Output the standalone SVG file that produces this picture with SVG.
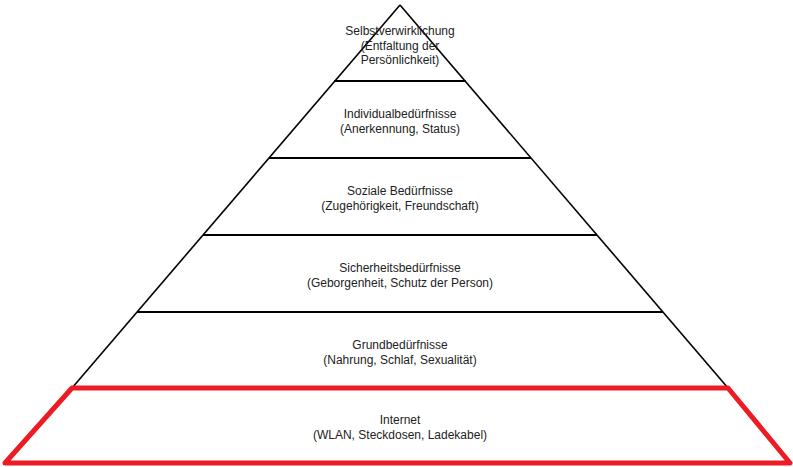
<svg xmlns="http://www.w3.org/2000/svg" width="793" height="467" viewBox="0 0 793 467">
<style>
.side{stroke:#000;stroke-width:1.6;fill:none}
.sep{stroke:#000;stroke-width:2.2;fill:none}
.red{stroke:#ED1C24;stroke-width:5;fill:none;stroke-linejoin:round}
text{font-family:"Liberation Sans","Open Sans",Arial,sans-serif;font-size:12px;fill:#222;text-anchor:middle}
</style>
<rect width="793" height="467" fill="#fff"/>
<g id="pyramid-outline">
<line class="side" x1="400" y1="5" x2="72" y2="388"/>
<line class="side" x1="400" y1="5" x2="728" y2="388"/>
<line class="sep" x1="334" y1="81" x2="466" y2="81"/>
<line class="sep" x1="269" y1="158" x2="531" y2="158"/>
<line class="sep" x1="203" y1="235" x2="597" y2="235"/>
<line class="sep" x1="137" y1="312" x2="663" y2="312"/>
</g>
<g id="level-selbstverwirklichung">
<text x="400" y="35">Selbstverwirklichung</text>
<text x="400" y="50">(Entfaltung der</text>
<text x="400" y="64">Persönlichkeit)</text>
</g>
<g id="level-individual">
<text x="400" y="118">Individualbedürfnisse</text>
<text x="400" y="133">(Anerkennung, Status)</text>
</g>
<g id="level-sozial">
<text x="400" y="195">Soziale Bedürfnisse</text>
<text x="400" y="210">(Zugehörigkeit, Freundschaft)</text>
</g>
<g id="level-sicherheit">
<text x="400" y="272">Sicherheitsbedürfnisse</text>
<text x="400" y="287">(Geborgenheit, Schutz der Person)</text>
</g>
<g id="level-grund">
<text x="400" y="349">Grundbedürfnisse</text>
<text x="400" y="364">(Nahrung, Schlaf, Sexualität)</text>
</g>
<g id="level-internet">
<polygon class="red" points="72,388 728,388 790,463 5,463"/>
<text x="400" y="424">Internet</text>
<text x="400" y="439">(WLAN, Steckdosen, Ladekabel)</text>
</g>
<g id="connectors"/>
</svg>
